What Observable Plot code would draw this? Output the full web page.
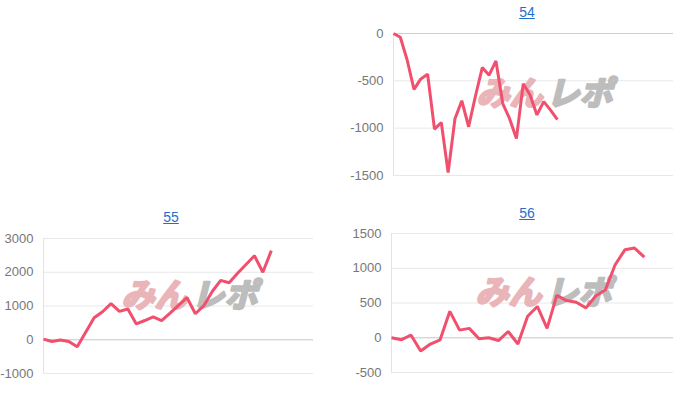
<!DOCTYPE html>
<html>
<head>
<meta charset="utf-8">
<script src="https://cdn.jsdelivr.net/npm/d3@7"></script>
<script src="https://cdn.jsdelivr.net/npm/@observablehq/plot@0.6"></script>
<style>
  html, body { margin: 0; padding: 0; background: #fff; }
  #root { position: relative; width: 700px; height: 398px; overflow: hidden; background: #fff; }
  .ttl { position: absolute; font-family: Arial, "Liberation Sans", sans-serif; font-size: 14px; line-height: 16px;
         color: #1f6fd1; text-decoration: underline; transform: translateX(-50%); white-space: nowrap; }
  .pnl { position: absolute; }
</style>
</head>
<body>
<div id="root"></div>
<script>
// ---- data ----
const titles = ["54", "55", "56"];

const series54 = [0, -40, -280, -590, -480, -430, -1010, -940, -1470, -900, -710, -985, -660, -360, -440, -290, -740, -900, -1110, -530, -650, -860, -720, -810, -910];
const series55 = [20, -50, -10, -50, -210, 220, 650, 830, 1070, 840, 910, 470, 570, 680, 570, 790, 1020, 1250, 770, 1010, 1430, 1760, 1690, 1970, 2230, 2490, 2000, 2640];
const series56 = [0, -30, 40, -190, -90, -30, 380, 110, 135, -15, 0, -40, 90, -90, 310, 450, 135, 610, 535, 510, 430, 600, 690, 1050, 1265, 1290, 1160];

const ticks54 = [0, -500, -1000, -1500];
const ticks55 = [3000, 2000, 1000, 0, -1000];
const ticks56 = [1500, 1000, 500, 0, -500];

const xMax54 = 41, xMax55 = 32, xMax56 = 29;

const watermarkLeft = "みん";
const watermarkRight = "レポ";

// ---- drawing ----
const root = document.getElementById("root");
const lineColor = "#f0506e";

function panel({title, values, ticks, xMax, left, top, width, height, mL, mR, mT, mB, titleX, titleTop}) {
  const yDomain = [d3.min(ticks), d3.max(ticks)];
  const wm = {frameAnchor: "middle", dy: -10, fontSize: 33, fontWeight: "bold", fontStyle: "italic",
    fontFamily: '"Noto Sans CJK JP", sans-serif', strokeWidth: 2.5, strokeLinejoin: "round"};
  const svg = Plot.plot({
    width, height,
    marginLeft: mL, marginRight: mR, marginTop: mT, marginBottom: mB,
    x: {domain: [0, xMax], axis: null},
    y: {domain: yDomain},
    style: {fontFamily: 'Arial, "Liberation Sans", sans-serif', fontSize: "13px", background: "transparent", overflow: "visible"},
    marks: [
      Plot.gridY(ticks, {stroke: "#e8e8e8", strokeOpacity: 1}),
      Plot.ruleY([0], {stroke: "#cfcfcf", strokeWidth: 1}),
      Plot.ruleX([0], {y1: yDomain[0], y2: yDomain[1], stroke: "#e3e3e3"}),
      Plot.text([0], {...wm, text: () => watermarkLeft, textAnchor: "end", dx: 9,
        fill: "#e9b5b8", stroke: "#e9b5b8", ariaLabel: "wm-left"}),
      Plot.text([0], {...wm, text: () => watermarkRight, textAnchor: "start", dx: 13,
        fill: "#bdbdbd", stroke: "#bdbdbd", ariaLabel: "wm-right"}),
      Plot.axisY(ticks, {tickSize: 0, tickPadding: 10, fill: "#777", label: null, fontSize: 13, tickFormat: d => String(d)}),
      Plot.line(values, {x: (d, i) => i, y: d => d, stroke: lineColor, strokeWidth: 3, strokeLinejoin: "miter", strokeLinecap: "butt"})
    ]
  });
  d3.select(svg).selectAll('g[aria-label="wm-left"] text').attr("textLength", 78).attr("lengthAdjust", "spacingAndGlyphs");
  d3.select(svg).selectAll('g[aria-label="wm-right"] text').attr("textLength", 82).attr("lengthAdjust", "spacingAndGlyphs");
  const wrap = document.createElement("div");
  wrap.className = "pnl";
  wrap.style.left = left + "px";
  wrap.style.top = top + "px";
  wrap.appendChild(svg);
  root.appendChild(wrap);
  const a = document.createElement("a");
  a.className = "ttl";
  a.href = "#";
  a.textContent = title;
  a.style.left = titleX + "px";
  a.style.top = titleTop + "px";
  root.appendChild(a);
}

panel({title: titles[0], values: series54, ticks: ticks54, xMax: xMax54,
  left: 340, top: 0, width: 360, height: 200, mL: 53, mR: 27, mT: 33, mB: 25, titleX: 527, titleTop: 4});
panel({title: titles[1], values: series55, ticks: ticks55, xMax: xMax55,
  left: 0, top: 200, width: 340, height: 198, mL: 43, mR: 27, mT: 38, mB: 25, titleX: 171, titleTop: 209});
panel({title: titles[2], values: series56, ticks: ticks56, xMax: xMax56,
  left: 340, top: 200, width: 360, height: 198, mL: 51, mR: 27, mT: 33, mB: 26, titleX: 527, titleTop: 205});
</script>
</body>
</html>
